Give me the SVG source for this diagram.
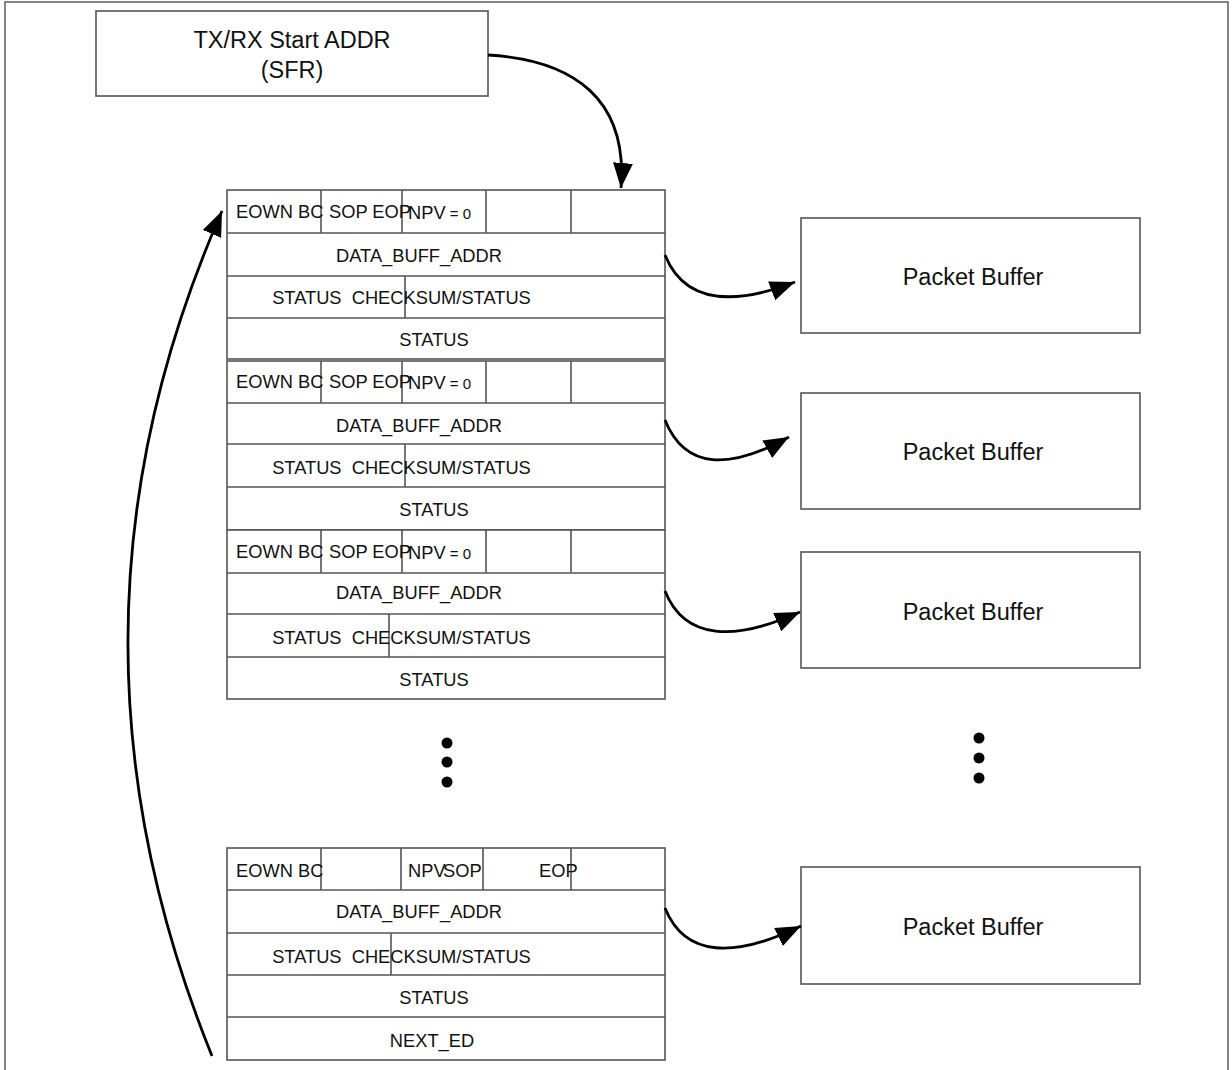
<svg xmlns="http://www.w3.org/2000/svg" width="1232" height="1070" viewBox="0 0 1232 1070">
<defs>
<style>
.box{fill:#fff;stroke:#555;stroke-width:1.6}
.ln{stroke:#555;stroke-width:1.6;fill:none}
.t{font-family:"Liberation Sans",Arial,sans-serif;font-size:18.3px;fill:#111;white-space:pre}
.c{text-anchor:middle}
.big{font-family:"Liberation Sans",Arial,sans-serif;font-size:23.5px;fill:#111;text-anchor:middle}
.arr{fill:none;stroke:#000;stroke-width:2.8}
.dot{fill:#000}
</style>
<marker id="ah" markerUnits="userSpaceOnUse" markerWidth="28" markerHeight="22" refX="25" refY="10" orient="auto">
<path d="M0,0 L25,10 L0,20 z" fill="#000"/>
</marker>
</defs>
<rect x="0" y="0" width="1232" height="1070" fill="#fff"/>
<rect x="5" y="2" width="1223" height="1090" fill="none" stroke="#666" stroke-width="1.6"/>

<g id="sfr">
<rect class="box" x="96" y="11" width="392" height="85"/>
<text class="big" x="292" y="48">TX/RX Start ADDR</text>
<text class="big" x="292" y="78">(SFR)</text>
</g>

<g id="desc1">
<rect class="box" x="227" y="190" width="438" height="169"/>
<path class="ln" d="M227 233H665M227 276H665M227 318H665M321 190V233M402 190V233M486 190V233M571 190V233M405 276V318"/>
<text class="t" x="236" y="218">EOWN BC</text>
<text class="t" x="329" y="218">SOP EOP</text>
<text class="t" x="408" y="219">NPV<tspan font-size="15"> = 0</tspan></text>
<text class="t c" x="419" y="262">DATA_BUFF_ADDR</text>
<text class="t c" x="401.5" y="304" xml:space="preserve">STATUS  CHECKSUM/STATUS</text>
<text class="t c" x="434" y="346">STATUS</text>
</g>

<g id="desc2">
<rect class="box" x="227" y="361" width="438" height="169"/>
<path class="ln" d="M227 403H665M227 444H665M227 487H665M321 361V403M402 361V403M486 361V403M571 361V403M405 444V487"/>
<text class="t" x="236" y="388">EOWN BC</text>
<text class="t" x="329" y="388">SOP EOP</text>
<text class="t" x="408" y="389">NPV<tspan font-size="15"> = 0</tspan></text>
<text class="t c" x="419" y="432">DATA_BUFF_ADDR</text>
<text class="t c" x="401.5" y="474" xml:space="preserve">STATUS  CHECKSUM/STATUS</text>
<text class="t c" x="434" y="516">STATUS</text>
</g>

<g id="desc3">
<rect class="box" x="227" y="530" width="438" height="169"/>
<path class="ln" d="M227 573H665M227 614H665M227 657H665M321 530V573M402 530V573M486 530V573M571 530V573M389 614V657"/>
<text class="t" x="236" y="558">EOWN BC</text>
<text class="t" x="329" y="558">SOP EOP</text>
<text class="t" x="408" y="559">NPV<tspan font-size="15"> = 0</tspan></text>
<text class="t c" x="419" y="599">DATA_BUFF_ADDR</text>
<text class="t c" x="401.5" y="644" xml:space="preserve">STATUS  CHECKSUM/STATUS</text>
<text class="t c" x="434" y="686">STATUS</text>
</g>

<g id="desc4">
<rect class="box" x="227" y="848" width="438" height="212"/>
<path class="ln" d="M227 890H665M227 933H665M227 975H665M227 1017H665M321 848V890M401 848V890M483 848V890M571 848V890M391 933V975"/>
<text class="t" x="236" y="877">EOWN BC</text>
<text class="t" x="408" y="877">NPV</text>
<text class="t" x="443" y="877">SOP</text>
<text class="t" x="539" y="877">EOP</text>
<text class="t c" x="419" y="918">DATA_BUFF_ADDR</text>
<text class="t c" x="401.5" y="963" xml:space="preserve">STATUS  CHECKSUM/STATUS</text>
<text class="t c" x="434" y="1004">STATUS</text>
<text class="t c" x="432" y="1047">NEXT_ED</text>
</g>

<g id="pb1"><rect class="box" x="801" y="218" width="339" height="115"/><text class="big" x="973" y="285">Packet Buffer</text></g>
<g id="pb2"><rect class="box" x="801" y="393" width="339" height="116"/><text class="big" x="973" y="460">Packet Buffer</text></g>
<g id="pb3"><rect class="box" x="801" y="552" width="339" height="116"/><text class="big" x="973" y="620">Packet Buffer</text></g>
<g id="pb4"><rect class="box" x="801" y="867" width="339" height="117"/><text class="big" x="973" y="935">Packet Buffer</text></g>

<g id="ellipsis">
<circle class="dot" cx="447" cy="743" r="5.5"/>
<circle class="dot" cx="447" cy="762" r="5.5"/>
<circle class="dot" cx="447" cy="782" r="5.5"/>
<circle class="dot" cx="979" cy="738" r="5.5"/>
<circle class="dot" cx="979" cy="758" r="5.5"/>
<circle class="dot" cx="979" cy="778" r="5.5"/>
</g>

<g id="connectors">
<path class="arr" marker-end="url(#ah)" d="M488 55 C575 60 628 100 621 188"/>
<path class="arr" marker-end="url(#ah)" d="M665 255 C685 305 735 305 795 282"/>
<path class="arr" marker-end="url(#ah)" d="M665 420 C685 470 730 470 789 437"/>
<path class="arr" marker-end="url(#ah)" d="M665 591 C685 641 735 641 800 612"/>
<path class="arr" marker-end="url(#ah)" d="M665 908 C685 958 735 958 801 926"/>
<path class="arr" marker-end="url(#ah)" d="M212 1056 Q39 628 222 211"/>
</g>
</svg>
